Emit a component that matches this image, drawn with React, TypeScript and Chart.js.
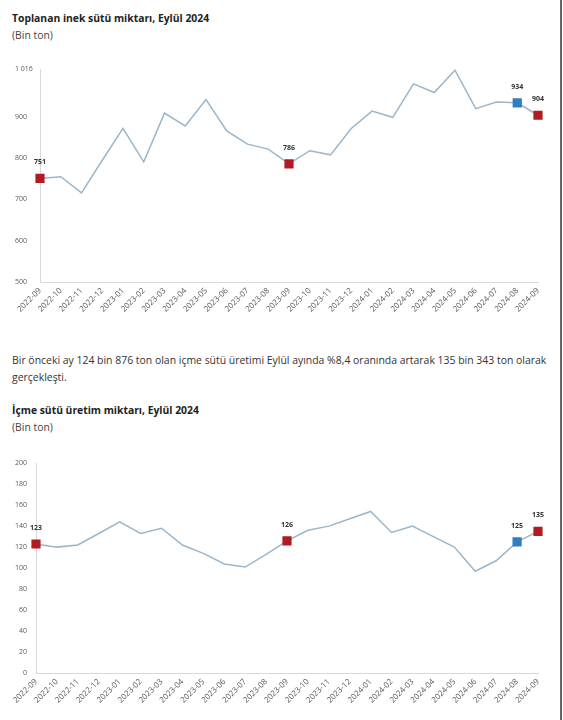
import React, { useEffect, useRef } from "react";
import { Chart, registerables } from "chart.js";

Chart.register(...registerables);

const months: string[] = [
  "2022-09", "2022-10", "2022-11", "2022-12", "2023-01", "2023-02", "2023-03", "2023-04",
  "2023-05", "2023-06", "2023-07", "2023-08", "2023-09", "2023-10", "2023-11", "2023-12",
  "2024-01", "2024-02", "2024-03", "2024-04", "2024-05", "2024-06", "2024-07", "2024-08", "2024-09",
];

const cowMilk: number[] = [
  751, 755, 716, 795, 872, 791, 909, 878, 942, 866, 834, 822, 786,
  818, 808, 872, 914, 899, 980, 959, 1013, 920, 936, 934, 904,
];

const drinkingMilk: number[] = [
  123, 120, 122, 133, 144, 133, 138, 122, 114, 104, 101, 113, 126,
  136, 140, 147, 154, 134, 140, 130, 120, 97, 107, 125, 135,
];

const cowMilkTicks: number[] = [500, 600, 700, 800, 900, 1016];
const drinkingMilkTicks: number[] = [0, 20, 40, 60, 80, 100, 120, 140, 160, 180, 200];

const redIdx: number[] = [0, 12, 24];
const blueIdx: number[] = [23];

const RED = "#b01c22";
const BLUE = "#2f7ec1";
const LINE = "#9ab6cb";
const FONT = "'Open Sans', 'Noto Sans', sans-serif";

function fmt(v: number): string {
  return String(v).replace(/\B(?=(\d{3})+(?!\d))/g, " ");
}

type ChartProps = {
  values: number[];
  ticks: number[];
  top: number;
  height: number;
  padTop: number;
  yWidth: number;
  padLeft: number;
  leftAlign: boolean;
};

function LineChart(props: ChartProps) {
  const ref = useRef<HTMLCanvasElement | null>(null);
  useEffect(() => {
    const canvas = ref.current;
    if (!canvas) return;
    const n = props.values.length;
    const special = (i: number) => redIdx.includes(i) || blueIdx.includes(i);
    const labelPlugin = {
      id: "valueLabels",
      afterDatasetsDraw(chart: any) {
        const meta = chart.getDatasetMeta(0);
        const ctx = chart.ctx;
        ctx.save();
        ctx.font = `bold 7px ${FONT}`;
        ctx.fillStyle = "#333333";
        ctx.textAlign = "center";
        ctx.textBaseline = "middle";
        for (let i = 0; i < n; i++) {
          if (!special(i)) continue;
          const p = meta.data[i];
          ctx.fillText(fmt(Math.round(props.values[i])), p.x, p.y - 16);
        }
        ctx.restore();
      },
    };
    const chart = new Chart(canvas, {
      type: "line",
      data: {
        labels: months,
        datasets: [
          {
            data: props.values,
            borderColor: LINE,
            borderWidth: 1.5,
            tension: 0,
            pointStyle: "rect",
            pointRadius: props.values.map((_, i) => (special(i) ? 6.5 : 0)),
            pointHoverRadius: props.values.map((_, i) => (special(i) ? 6.5 : 0)),
            pointBackgroundColor: props.values.map((_, i) => (blueIdx.includes(i) ? BLUE : RED)),
            pointBorderWidth: 0,
            pointBorderColor: "rgba(0,0,0,0)",
          },
        ],
      },
      options: {
        animation: false,
        responsive: false,
        maintainAspectRatio: false,
        layout: { padding: { top: props.padTop, left: props.padLeft, right: 17, bottom: 0 } },
        plugins: { legend: { display: false }, tooltip: { enabled: false } },
        scales: {
          x: {
            offset: false,
            grid: { display: false, drawTicks: false },
            border: { display: true, color: "#d9d9d9", width: 1 },
            ticks: {
              autoSkip: false,
              minRotation: 45,
              maxRotation: 45,
              padding: 4,
              color: "#595959",
              font: { size: 8, family: FONT },
            },
            afterFit(scale: any) {
              scale.height = 40;
            },
          },
          y: {
            min: props.ticks[0],
            max: props.ticks[props.ticks.length - 1],
            grid: { display: false, drawTicks: false },
            border: { display: true, color: "#d9d9d9", width: 1 },
            ticks: {
              color: "#595959",
              padding: props.leftAlign ? 3 : 9,
              crossAlign: props.leftAlign ? "far" : "near",
              font: { size: 7, family: FONT },
              callback: (v: any) => fmt(Number(v)),
            },
            afterBuildTicks(scale: any) {
              scale.ticks = props.ticks.map((v) => ({ value: v }));
            },
            afterFit(scale: any) {
              scale.width = props.yWidth;
            },
          },
        },
      },
      plugins: [labelPlugin],
    } as any);
    return () => chart.destroy();
  }, []);
  return (
    <canvas
      ref={ref}
      width={555}
      height={props.height}
      style={{ position: "absolute", left: 0, top: props.top, width: 555, height: props.height }}
    />
  );
}

const textBase: React.CSSProperties = {
  position: "absolute",
  left: 12,
  whiteSpace: "nowrap",
  fontFamily: FONT,
  lineHeight: 1,
};

export default function App() {
  return (
    <div style={{ position: "absolute", left: 0, top: 0, width: 563, height: 720, background: "#ffffff", overflow: "hidden" }}>
      <div style={{ ...textBase, top: 13, fontSize: 10.35, fontWeight: 700, color: "#222" }}>
        Toplanan inek sütü miktarı, Eylül 2024
      </div>
      <div style={{ ...textBase, top: 30, fontSize: 10.4, color: "#444" }}>(Bin ton)</div>
      <LineChart values={cowMilk} ticks={cowMilkTicks} top={60} height={262} padTop={9} yWidth={25} padLeft={15} leftAlign={true} />
      <div style={{ ...textBase, top: 355, fontSize: 10.45, color: "#333" }}>
        Bir önceki ay 124 bin 876 ton olan içme sütü üretimi Eylül ayında %8,4 oranında artarak 135 bin 343 ton olarak
      </div>
      <div style={{ ...textBase, top: 372, fontSize: 10.45, color: "#333" }}>gerçekleşti.</div>
      <div style={{ ...textBase, top: 405, fontSize: 10.35, fontWeight: 700, color: "#222" }}>
        İçme sütü üretim miktarı, Eylül 2024
      </div>
      <div style={{ ...textBase, top: 422, fontSize: 10.4, color: "#444" }}>(Bin ton)</div>
      <LineChart values={drinkingMilk} ticks={drinkingMilkTicks} top={450} height={263} padTop={11} yWidth={36} padLeft={0} leftAlign={false} />
      <div style={{ position: "absolute", left: 560, top: 0, width: 2, height: 720, background: "#666" }} />
    </div>
  );
}
